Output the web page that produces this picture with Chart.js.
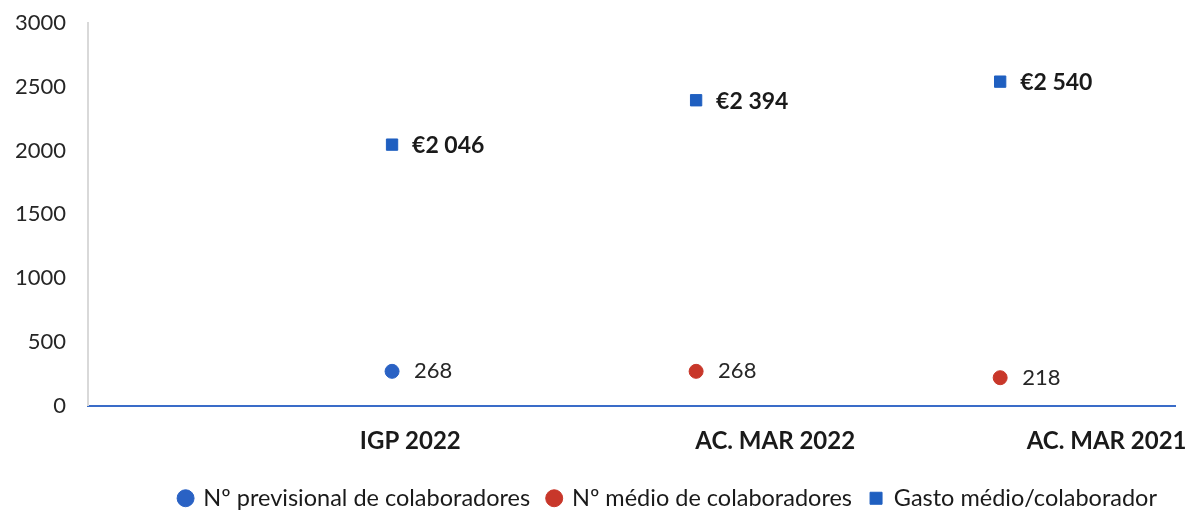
<!DOCTYPE html>
<html>
<head>
<meta charset="utf-8">
<script src="https://cdn.jsdelivr.net/npm/chart.js@4.4.1/dist/chart.umd.min.js"></script>
<style>
html,body{margin:0;padding:0;background:#fff;}
#wrap{width:1194px;height:516px;position:relative;}
</style>
</head>
<body>
<div id="wrap"><canvas id="c" width="1194" height="516"></canvas></div>
<script>
const categories = ["IGP 2022", "AC. MAR 2022", "AC. MAR 2021"];
const gastoMedio = [2046, 2394, 2540];
const nPrevisional = [268, null, null];
const nMedio = [null, 268, 218];
const gastoLabels = ["€2 046", "€2 394", "€2 540"];
const yTicks = [0, 500, 1000, 1500, 2000, 2500, 3000];

const FONT = "Lato, 'Open Sans', sans-serif";
const labelTickPos = [1.06, 2.26, 3.35];

const toXY = arr => arr.map((v, i) => v === null ? null : {x: i + 1, y: v}).filter(p => p);

const labelPlugin = {
  id: 'pointLabels',
  afterDatasetsDraw(chart) {
    const ctx = chart.ctx;
    chart.data.datasets.forEach((ds, di) => {
      const meta = chart.getDatasetMeta(di);
      meta.data.forEach((el, i) => {
        const p = ds.data[i];
        ctx.save();
        ctx.textBaseline = 'middle';
        ctx.textAlign = 'left';
        if (ds.isMoney) {
          ctx.font = "bold 23px " + FONT;
          ctx.fillStyle = '#1a1a1a';
          ctx.fillText(gastoLabels[p.x - 1], el.x + 20, el.y + 1);
        } else {
          ctx.font = "22px " + FONT;
          ctx.fillStyle = '#262626';
          ctx.fillText(String(p.y), el.x + 22, el.y);
        }
        ctx.restore();
      });
    });
  }
};

new Chart(document.getElementById('c'), {
  type: 'scatter',
  data: {
    datasets: [
      {label: 'Nº previsional de colaboradores', data: toXY(nPrevisional), pointStyle: 'circle', pointRadius: 7, backgroundColor: '#2a62c4', borderColor: '#2a62c4'},
      {label: 'Nº médio de colaboradores', data: toXY(nMedio), pointStyle: 'circle', pointRadius: 7, backgroundColor: '#c8372a', borderColor: '#c8372a'},
      {label: 'Gasto médio/colaborador', data: toXY(gastoMedio), pointStyle: 'rect', pointRadius: 8, backgroundColor: '#1f5fc0', borderColor: '#1f5fc0', isMoney: true}
    ]
  },
  options: {
    responsive: false,
    animation: false,
    layout: {autoPadding: false, padding: {top: 23, right: 19, left: 0, bottom: -4}},
    plugins: {
      tooltip: {enabled: false},
      legend: {
        position: 'bottom',
        align: 'end',
        labels: {
          usePointStyle: true,
          boxWidth: 12, boxHeight: 12,
          padding: 18,
          color: '#1a1a1a',
          font: {family: FONT, size: 23.5}
        }
      }
    },
    scales: {
      x: {
        type: 'linear',
        min: 0, max: 3.575,
        afterBuildTicks(s) { s.ticks = labelTickPos.map(v => ({value: v})); },
        afterFit(s) { s.height = 63; s.paddingRight = 0; s.paddingLeft = 0; },
        ticks: {
          autoSkip: false, maxRotation: 0,
          callback(v, i) { return categories[i]; },
          font: {family: FONT, size: 24, weight: 'bold'},
          color: '#1a1a1a',
          padding: 21
        },
        grid: {display: false, drawTicks: false},
        border: {display: true, color: '#3a6cc8', width: 2}
      },
      y: {
        min: 0, max: 3000,
        afterBuildTicks(s) { s.ticks = yTicks.map(v => ({value: v})); },
        afterFit(s) { s.width = 88; s.paddingTop = 0; s.paddingBottom = 0; },
        ticks: {
          callback(v) { return String(v); },
          font: {family: FONT, size: 22},
          color: '#262626',
          padding: 22
        },
        grid: {display: false, drawTicks: false},
        border: {display: true, color: '#d9d9d9', width: 2}
      }
    }
  },
  plugins: [labelPlugin]
});
</script>
</body>
</html>
